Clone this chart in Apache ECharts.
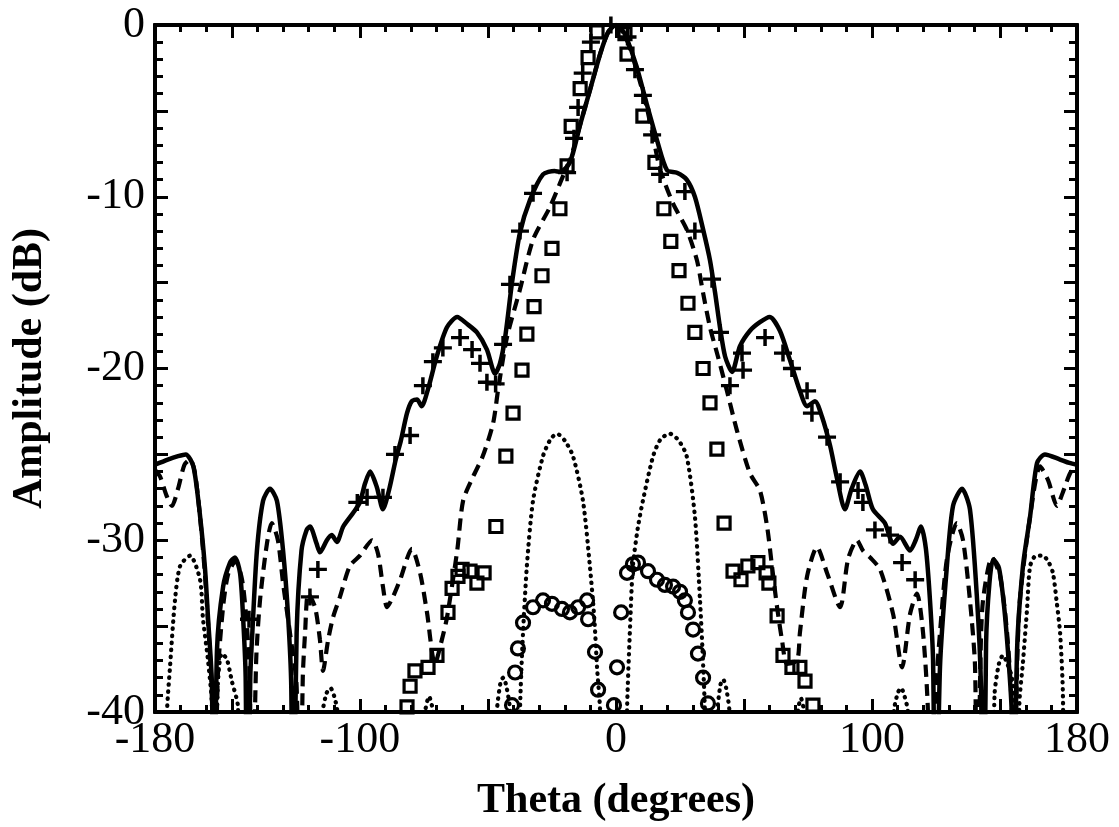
<!DOCTYPE html>
<html><head><meta charset="utf-8">
<script src="https://cdn.jsdelivr.net/npm/echarts@6/dist/echarts.min.js"></script>
<style>html,body{margin:0;padding:0;background:#fff}#c{width:1119px;height:827px}</style>
</head><body><div id="c"></div>
<script>
// Tick labels
const xTickLabels = [-180, -100, 0, 100, 180];
const yTickLabels = [0, -10, -20, -30, -40];

// Solid curve [theta, dB]
const solidLine = [
[-180,-25.6],[-175,-25.3],[-171,-25.1],[-168,-25.0],[-165,-25.7],[-162.4,-28.6],[-160.5,-31.6],[-159.3,-34.5],[-157.8,-38.3],[-157,-50],
[-155.8,-36.4],[-153.4,-32.7],[-150.7,-31.3],[-148.8,-31.0],[-146.8,-31.9],[-145.6,-34.5],[-144.6,-38],[-144,-50],
[-142.8,-38],[-142,-35.4],[-140.2,-30.6],[-137.8,-27.7],[-135.1,-27.0],[-132.4,-27.7],[-130,-30.6],[-128,-34.5],[-126.8,-38.5],[-126.2,-50],
[-124.7,-35.4],[-122.8,-30.6],[-120.8,-29.4],[-119.5,-29.2],[-116.9,-30.2],[-115.6,-30.7],[-112.9,-30.0],[-111,-29.7],[-109,-30.1],[-106.5,-29.2],[-102.6,-28.4],[-100,-27.8],[-98,-26.7],[-96,-26.0],[-93.4,-26.9],[-91,-28.2],[-88.5,-27.0],[-86,-25.3],[-84,-24.2],[-81.6,-22.6],[-79.7,-21.9],[-77.7,-21.8],[-75.9,-22.2],[-73.4,-21.2],[-70,-19.3],[-66,-17.6],[-62,-17.0],[-58.2,-17.4],[-54.3,-17.9],[-50.4,-18.9],[-47.2,-20.3],[-45.3,-19.7],[-43.3,-18.2],[-40.6,-15.0],[-37.5,-12.1],[-33.6,-10.2],[-28.5,-8.7],[-24,-8.5],[-21.9,-8.55],[-18,-8.0],[-14,-5.8],[-10,-3.7],[-6,-1.6],[-3,-0.4],[0,0],
[2,-0.2],[4,-0.7],[8,-2.4],[12,-4.6],[16,-6.7],[19.9,-8.45],[23.8,-8.6],[27.6,-9.0],[30.8,-10.0],[34,-11.9],[36.7,-13.7],[38.7,-15.6],[40.6,-17.6],[42.6,-19.3],[45.3,-20.2],[48.4,-18.7],[52.3,-17.8],[56.2,-17.3],[60,-17.0],[64,-17.8],[67.9,-19.5],[71.8,-21.3],[74.6,-22.2],[77.7,-21.9],[80.4,-22.8],[83.6,-24.5],[86,-26.2],[89.4,-28.2],[92,-27.0],[95.3,-26.0],[97.5,-26.8],[100.3,-28.2],[105,-29.0],[108.2,-30.2],[110.9,-29.8],[114.8,-30.6],[117,-30.0],[119.1,-29.2],[121,-30.5],[122.6,-33.5],[123.8,-37],[124.8,-50],
[126.5,-37.4],[129.2,-31.5],[131.6,-28.0],[135.1,-27.0],[138.2,-28.2],[141,-33.5],[142.5,-38.5],[143.5,-50],
[144.5,-36],[145.8,-32.5],[147.3,-31.1],[149.5,-31.6],[151.5,-33.8],[153.3,-37],[154.5,-40],[155.2,-50],
[156.6,-36.4],[158.9,-31.5],[161.7,-28.6],[164.4,-25.5],[167.5,-25.0],[173.4,-25.3],[177,-25.5],[180,-25.6]
];

// Dashed curve
const dashedLine = [
[-180,-25.9],[-178,-26.3],[-175.5,-27.4],[-173.4,-28.0],[-171,-27.0],[-168.5,-25.6],[-166.3,-25.3],[-164.5,-26],[-162.5,-28.5],[-160.5,-32],[-159,-35.5],[-157.8,-39],[-157,-50],
[-155.5,-38],[-153.5,-34],[-151.5,-32],[-148.5,-31.2],[-146,-32.3],[-144.2,-34.8],[-143,-38],[-142.3,-50],
[-140.5,-37],[-139,-33.5],[-136.3,-30.2],[-134.4,-29.0],[-132,-30.0],[-130,-32.5],[-127.3,-35.4],[-124.7,-38.5],[-123.5,-50],
[-122.3,-38],[-121.4,-35.4],[-120.2,-33.1],[-117.5,-33.9],[-115.6,-35.8],[-114.4,-37.6],[-112.4,-35.8],[-110.5,-34.5],[-107.8,-33.3],[-103.9,-31.5],[-100,-30.9],[-95.2,-30.0],[-92.9,-30.8],[-91,-32.7],[-89.4,-33.9],[-87.1,-33.3],[-84.3,-32.3],[-79.7,-30.5],[-76.5,-31.9],[-73.8,-34.2],[-70.7,-37.2],[-68,-35.8],[-66,-34.5],[-62,-30.6],[-59.7,-27.7],[-55.8,-26.3],[-52,-25.1],[-48,-23.2],[-46,-21.2],[-42.6,-18.2],[-37.5,-15.4],[-32.4,-12.5],[-25.8,-10.6],[-20.7,-8.8],[-18,-7.9],[-14,-5.8],[-10,-3.7],[-6,-1.6],[-3,-0.4],[0,0],
[4,-0.8],[8,-2.6],[12,-4.8],[15,-6.9],[17.2,-8.4],[22.3,-10.4],[27.6,-11.9],[31.6,-13.7],[34,-15.6],[36.7,-17.6],[39.8,-19.3],[43.3,-21.3],[47.2,-23.6],[52.3,-26.1],[56.2,-27.1],[59,-29.2],[60.9,-31.5],[62.9,-33.9],[64.8,-35.8],[66.8,-37.2],[70.7,-37.0],[71.8,-35.4],[74.6,-32.1],[78.5,-30.4],[82.4,-31.9],[87.5,-33.9],[90.6,-31.1],[94.1,-30.0],[96.4,-30.6],[99.2,-31.0],[103.1,-31.7],[108.2,-34.3],[111.7,-37.4],[114.8,-34.3],[117.5,-33.1],[119.9,-35.4],[121.8,-40],[122.5,-50],
[124.8,-39],[126.5,-35.4],[129.2,-31.1],[133.1,-29.0],[135.5,-30.0],[138.2,-33.5],[140.2,-37.4],[141,-50],
[142.3,-37],[143.3,-33.5],[146.8,-31.0],[150,-32.1],[152.7,-35.4],[154.6,-40],[155.2,-50],
[156.5,-38],[157.7,-33.5],[161.7,-28.6],[165.6,-25.7],[168.7,-26.5],[172.2,-28.0],[174.5,-27.2],[177.3,-26.1],[180,-25.6]
];

// Dotted curve
const dottedLine = [
[-180,-60],[-176,-50],[-175.3,-40],[-174.2,-37.5],[-172.2,-33.5],[-170.2,-31.5],[-166.3,-30.9],[-162.4,-32.3],[-161.3,-34.5],[-159.3,-37.0],[-157.8,-39.5],[-157,-50],
[-155.5,-38.5],[-154,-36.6],[-152,-36.9],[-150,-38.2],[-147.6,-39.7],[-147,-50],
[-130,-60],[-115.5,-50],[-114.5,-40],[-113,-38.9],[-111.5,-38.6],[-110,-39.1],[-108.8,-40],[-108,-50],
[-90,-60],[-75.5,-50],[-74.5,-40],[-73,-39.1],[-71.5,-40],[-70.5,-50],
[-60,-60],[-47.5,-50],[-46.5,-40],[-45,-38.2],[-44,-38.0],[-42.8,-38.5],[-41.3,-40],[-40.5,-50],
[-38.5,-50],[-37.5,-40],[-36.5,-36],[-34.8,-31.5],[-32.4,-27.7],[-28.5,-25.1],[-25.5,-24.1],[-23,-23.8],[-20,-24.2],[-16.8,-25.1],[-12.9,-27.7],[-10.2,-31.5],[-8.5,-34.5],[-7.4,-37.4],[-6.2,-40],[-5.5,-50],
[0,-60],[3.5,-50],[4.3,-40],[5.5,-35],[6.6,-31.5],[8.5,-29.3],[10.5,-27.7],[14.5,-25.1],[17.5,-24.1],[21.1,-23.8],[24.5,-24.2],[27.6,-25.1],[30.8,-28.6],[32.8,-33.5],[33.8,-36.5],[34.7,-40],[35.5,-50],
[38.8,-50],[39.6,-40],[40.8,-38.4],[41.8,-38.1],[43,-38.6],[44.3,-40],[45,-50],
[60,-60],[70,-50],[71,-40],[72.2,-39.2],[73.4,-40],[74.3,-50],
[90,-60],[107.5,-50],[108.5,-40],[110,-38.9],[111.3,-38.6],[112.7,-39.1],[114,-40],[115,-50],
[130,-60],[146.5,-50],[147.8,-39],[149.5,-37.2],[151.1,-36.7],[152.8,-37.2],[154.6,-38],[155.6,-40],[156.5,-50],
[157.5,-39.5],[158.9,-37.1],[160.5,-34],[161.7,-31.5],[164,-30.9],[166.7,-30.9],[169,-31.3],[170.6,-31.9],[172,-33.5],[173.4,-35.4],[174.5,-39],[175,-50],[180,-60]
];

// Plus markers
const plusPts = [
[-143.3,-34.6],[-119.5,-33.3],[-116.4,-31.7],[-101,-27.8],[-97.2,-27.5],[-91,-27.5],[-86.3,-25.0],[-80.4,-23.9],[-75.4,-21.0],[-71.5,-19.6],[-67.6,-18.8],[-60.9,-18.2],[-56.2,-18.9],[-53.1,-19.7],[-50.4,-20.8],[-47,-20.9],[-44.1,-18.6],[-41.4,-15.1],[-37.5,-12.0],[-32.4,-9.8],[-19.1,-8.6],[-16.4,-6.6],[-14.8,-4.8],[-13,-2.8],[-9.8,-1.0],[-2,0],
[4.5,-0.7],[7.4,-2.6],[10.5,-4.1],[14.1,-6.4],[17.2,-8.7],[26.9,-9.7],[30.8,-12.0],[37.5,-14.8],[40.6,-17.9],[44.5,-21.0],[49.2,-19.1],[49.6,-20.1],[58.2,-18.2],[65.2,-19.1],[68.7,-20.0],[74.6,-21.3],[76.5,-22.6],[82.4,-24.0],[87.5,-26.6],[94.5,-27.1],[96.4,-27.8],[101.1,-29.4],[107,-29.7],[111.7,-31.3],[116.8,-32.3]
];

// Square markers
const squarePts = [
[-81.6,-39.7],[-80.4,-38.5],[-78.5,-37.6],[-73.4,-37.4],[-69.9,-36.7],[-65.6,-34.2],[-64.0,-32.8],[-61.7,-32.1],[-60.1,-31.7],[-57.0,-31.8],[-54.3,-32.5],[-51.5,-31.9],[-46.9,-29.2],[-43,-25.1],[-40.2,-22.6],[-36.7,-20.1],[-34.8,-18.0],[-32.0,-16.4],[-28.9,-14.6],[-25.0,-13.0],[-21.9,-10.7],[-19.1,-8.2],[-17.5,-5.9],[-14,-3.7],[-10.9,-1.9],[-7.4,-0.4],
[3.5,-0.5],[4.3,-1.7],[10.5,-5.3],[15.2,-8.0],[18.7,-10.7],[21.4,-12.6],[24.6,-14.3],[28.1,-16.2],[30.8,-17.9],[34.0,-20.0],[36.7,-22.0],[39.4,-24.7],[42.2,-29.0],[45.7,-31.8],[48.8,-32.3],[51.5,-31.5],[55.4,-31.3],[58.6,-31.9],[59.7,-32.5],[62.9,-34.4],[65.2,-36.7],[68.7,-37.4],[71.8,-37.4],[73.8,-38.2],[76.9,-39.6]
];

// Circle markers
const circlePts = [
[-40.6,-39.6],[-39.4,-37.7],[-38.3,-36.3],[-36.3,-34.8],[-32.4,-33.9],[-28.5,-33.5],[-25.0,-33.7],[-21.1,-34.0],[-18.0,-34.2],[-14.8,-33.9],[-11.3,-33.5],[-10.9,-34.6],[-8.2,-36.5],[-7.0,-38.7],[-0.8,-39.6],[0.4,-37.4],[2.0,-34.2],[4.3,-31.9],[6.6,-31.4],[8.6,-31.3],[12.5,-31.8],[16.0,-32.3],[19.1,-32.6],[22.3,-32.7],[25.0,-33.0],[26.9,-33.5],[28.1,-34.2],[30.1,-35.2],[32.0,-36.6],[34.0,-38.0],[35.9,-39.5]
];

const FONT = '"Liberation Serif", "Times New Roman", serif';
const xMinor = [], xMajor = [], yMinor = [], yMajor = [];
for (let v = -180; v <= 180; v += 10) { (v % 50 === 0 ? xMajor : xMinor).push(v); }
for (let v = -40; v <= 0; v += 1) { (v % 5 === 0 ? yMajor : yMinor).push(v); }

function xAx(pos, ticks, len, labels, withName) {
  return {
    type: 'value', min: -180, max: 180, position: pos, gridIndex: 0,
    axisLine: { show: true, onZero: false, lineStyle: { color: '#000', width: 4 } },
    axisTick: { show: true, inside: true, length: len, customValues: ticks, lineStyle: { color: '#000', width: 3 } },
    axisLabel: labels ? { show: true, customValues: labels, fontFamily: FONT, fontSize: 44, color: '#000', margin: 6 } : { show: false },
    splitLine: { show: false },
    name: withName ? 'Theta (degrees)' : '', nameLocation: 'middle', nameGap: 68,
    nameTextStyle: { fontFamily: FONT, fontSize: 42, fontWeight: 'bold', color: '#000' }
  };
}
function yAx(pos, ticks, len, labels, withName) {
  return {
    type: 'value', min: -40, max: 0, position: pos, gridIndex: 0,
    axisLine: { show: true, onZero: false, lineStyle: { color: '#000', width: 4 } },
    axisTick: { show: true, inside: true, length: len, customValues: ticks, lineStyle: { color: '#000', width: 3 } },
    axisLabel: labels ? { show: true, customValues: labels, fontFamily: FONT, fontSize: 44, color: '#000', margin: 10 } : { show: false },
    splitLine: { show: false },
    name: withName ? 'Amplitude (dB)' : '', nameLocation: 'middle', nameGap: 104,
    nameTextStyle: { fontFamily: FONT, fontSize: 42, fontWeight: 'bold', color: '#000' }
  };
}

const plusPath = 'path://M-3.5,-18 H3.5 V-3.5 H18 V3.5 H3.5 V18 H-3.5 V3.5 H-18 V-3.5 H-3.5 Z';

const chart = echarts.init(document.getElementById('c'), null, { renderer: 'canvas' });
chart.setOption({
  animation: false,
  backgroundColor: '#fff',
  grid: { left: 155, top: 25, right: 42, bottom: 115, containLabel: false },
  xAxis: [
    xAx('bottom', xMinor, 7, xTickLabels, true),
    xAx('bottom', xMajor, 13, null, false),
    xAx('top', xMinor, 7, null, false),
    xAx('top', xMajor, 13, null, false)
  ],
  yAxis: [
    yAx('left', yMinor, 8, yTickLabels, true),
    yAx('left', yMajor, 13, null, false),
    yAx('right', yMinor, 8, null, false),
    yAx('right', yMajor, 13, null, false)
  ],
  series: [
    { type: 'line', data: solidLine, showSymbol: false, smooth: 0.25, clip: true,
      lineStyle: { color: '#000', width: 4.5 } },
    { type: 'line', data: dashedLine, showSymbol: false, smooth: 0.25, clip: true,
      lineStyle: { color: '#000', width: 4.2, type: [12, 7] } },
    { type: 'line', data: dottedLine, showSymbol: false, smooth: 0.25, clip: true,
      lineStyle: { color: '#000', width: 4.2, type: [0.5, 6.5], cap: 'round' } },
    { type: 'scatter', data: plusPts, symbol: plusPath, symbolSize: [18, 17],
      itemStyle: { color: '#000', opacity: 1 } },
    { type: 'scatter', data: squarePts, symbol: 'rect', symbolSize: 12,
      itemStyle: { color: 'rgba(255,255,255,0)', borderColor: '#000', borderWidth: 3.2, opacity: 1 } },
    { type: 'scatter', data: circlePts, symbol: 'circle', symbolSize: 13,
      itemStyle: { color: 'rgba(255,255,255,0)', borderColor: '#000', borderWidth: 3.2, opacity: 1 } }
  ]
});
</script>
</body></html>
